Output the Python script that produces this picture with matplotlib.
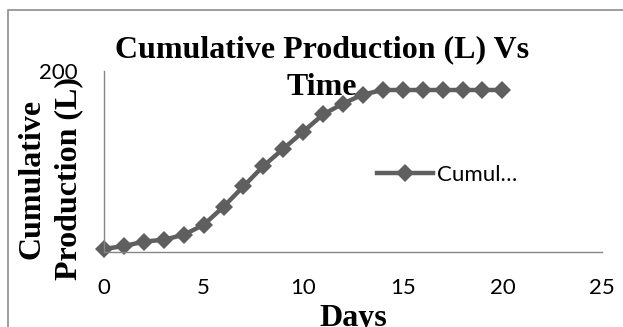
import matplotlib.pyplot as plt
from matplotlib.patches import Rectangle

# data
days = list(range(21))
cumulative = [3.5, 6.5, 11.5, 13.5, 19, 30, 50, 72.5, 95, 114, 133, 152,
              164, 174, 179, 179, 179, 179, 179, 179, 179]
x_ticks = [0, 5, 10, 15, 20, 25]
y_ticks = [200]

line_color = "#5f5f5f"
axis_color = "#868686"
serif = "Liberation Serif"
sans = "Lato"

fig = plt.figure(figsize=(6.23, 3.27), dpi=100)
ax = fig.add_axes([104 / 623, 1 - 252 / 327, 498 / 623, 181 / 327])

ax.plot(days, cumulative, color=line_color, linewidth=3.2, marker="D",
        markersize=9, markeredgewidth=0, label="Cumul…", clip_on=False)

ax.set_xlim(0, 25)
ax.set_ylim(0, 200)
ax.set_xticks(x_ticks)
ax.set_yticks(y_ticks)
for lab in ax.get_xticklabels() + ax.get_yticklabels():
    lab.set_fontfamily(sans)
    lab.set_fontsize(16)
ax.tick_params(axis="x", length=0, pad=19)
ax.tick_params(axis="y", length=0, pad=19)

for side in ["top", "right"]:
    ax.spines[side].set_visible(False)
for side in ["left", "bottom"]:
    ax.spines[side].set_color(axis_color)
    ax.spines[side].set_linewidth(1.0)

# titles
fig.text(322 / 623, 1 - 35 / 327, "Cumulative Production (L) Vs\nTime",
         ha="center", va="top", fontfamily=serif, fontweight="bold",
         fontsize=23, linespacing=1.42)
fig.text(50 / 623, 1 - 179 / 327, "Cumulative\nProduction (L)", rotation=90,
         ha="center", va="center", multialignment="center",
         fontfamily=serif, fontweight="bold", fontsize=23, linespacing=1.35)
fig.text(353 / 623, 1 - 326 / 327, "Days", ha="center", va="baseline",
         fontfamily=serif, fontweight="bold", fontsize=23)

leg = fig.legend(loc="center left", bbox_to_anchor=(377 / 623, 1 - 175 / 327),
                 frameon=False, borderpad=0, borderaxespad=0,
                 handlelength=2.5, handletextpad=0.2,
                 prop={"family": sans, "size": 16})

# chart border, cut off at right and bottom like the source image
fig.patches.append(Rectangle((8 / 623, -0.1), 1.2, 1 - 10 / 327 + 0.1,
                             transform=fig.transFigure, fill=False,
                             edgecolor="#8c8c8c", linewidth=1.2))

fig.savefig("out.png", dpi=100)
